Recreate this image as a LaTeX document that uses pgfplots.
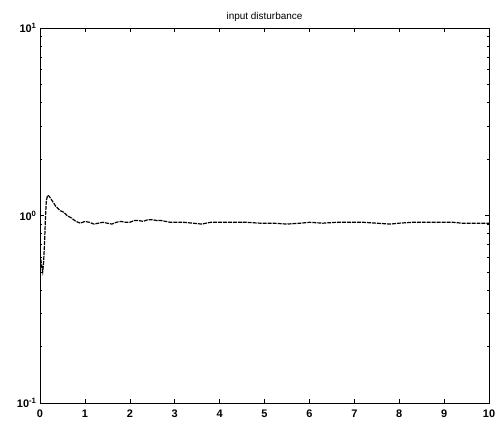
\documentclass[border=0pt]{standalone}
\usepackage{fontspec}
\setmainfont{Liberation Sans}
\usepackage{pgfplots}
\pgfplotsset{compat=1.18}

\begin{document}
\begin{tikzpicture}
\begin{axis}[
    scale only axis,
    width=449bp,
    height=375bp,
    ymode=log,
    xmin=0, xmax=10,
    ymin=0.1, ymax=10,
    xtick={0,1,...,10},
    ytick={0.1,1,10},
    yticklabels={10\textsuperscript{-1},10\textsuperscript{0},10\textsuperscript{1}},
    /pgf/number format/assume math mode=true,
    tick align=inside,
    major tick length=4bp,
    minor tick length=2bp,
    tick style={black, line width=0.6pt},
    axis line style={black, line width=0.9pt},
    ticklabel style={font=\fontsize{11}{13}\selectfont\bfseries},
    xticklabel style={yshift=-3bp},
    title={input disturbance},
    title style={font=\fontsize{10}{12}\selectfont, yshift=-3bp},
]
\addplot[black, line width=1.2pt, dash pattern=on 4pt off 1pt] coordinates {
(0,0.62) (0.02,0.58) (0.04,0.53) (0.06,0.5) (0.08,0.56) (0.1,0.7)
(0.12,0.95) (0.14,1.2) (0.17,1.28) (0.2,1.27) (0.25,1.22) (0.3,1.17)
(0.35,1.12) (0.4,1.09) (0.45,1.06) (0.5,1.05) (0.55,1.03) (0.6,1.0)
(0.7,0.97) (0.8,0.93) (0.9,0.91) (0.95,0.92) (1.0,0.93) (1.1,0.92)
(1.2,0.9) (1.3,0.91) (1.4,0.92) (1.5,0.91) (1.6,0.9) (1.7,0.92)
(1.8,0.93) (1.9,0.92) (2.0,0.92) (2.1,0.94) (2.2,0.94) (2.3,0.93)
(2.4,0.95) (2.5,0.95) (2.6,0.94) (2.7,0.94) (2.8,0.93) (2.9,0.92)
(3.0,0.92) (3.2,0.92) (3.4,0.91) (3.6,0.9) (3.8,0.92) (4.0,0.92)
(4.3,0.92) (4.6,0.92) (4.9,0.91) (5.2,0.91) (5.5,0.9) (5.8,0.91)
(6.0,0.92) (6.3,0.91) (6.6,0.92) (6.9,0.92) (7.2,0.92) (7.5,0.91)
(7.8,0.9) (8.0,0.91) (8.3,0.92) (8.6,0.92) (8.9,0.92) (9.2,0.92)
(9.4,0.91) (10,0.91)
};
\end{axis}
\path ([shift={(-40bp,-24bp)}]current axis.south west)
  rectangle ([shift={(13bp,28bp)}]current axis.north east);
\end{tikzpicture}
\end{document}
